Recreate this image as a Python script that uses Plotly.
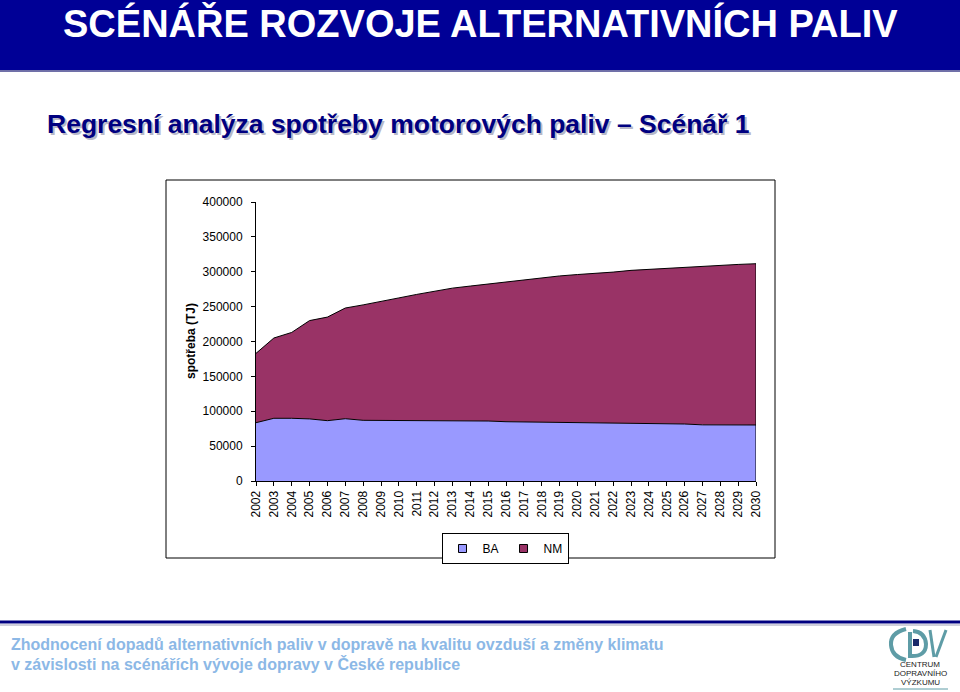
import plotly.graph_objects as go

# ---------------- data ----------------
years = list(range(2002, 2031))
year_labels = [str(y) for y in years]
ba = [83600, 89900, 89900, 89000, 86500, 89300, 87000, 87000, 87000, 87000,
      86500, 86000, 86000, 86000, 85000, 84600, 84600, 84600, 84000, 83600,
      83600, 82500, 82200, 82200, 81700, 80500, 80300, 80300, 80300]
nm = [99400, 115100, 123100, 141000, 148500, 158700, 165500, 171000, 175500, 180500,
      185500, 190500, 193500, 196500, 200000, 204400, 206900, 209400, 212000, 213900,
      215900, 219500, 221300, 223300, 225300, 227500, 229200, 230200, 231200]
series_names = ["BA", "NM"]
series_colors = ["#9999FF", "#993366"]
y_ticks = list(range(0, 400001, 50000))

# ---------------- geometry helpers (pixel -> paper) ----------------
W, H = 960, 692
L, R, T, B = 256, 756, 202, 481


def px(x):
    return (x - L) / (R - L)


def py(y):
    return (B - y) / (B - T)


FONT = "Liberation Sans, Arial, sans-serif"

fig = go.Figure()

for vals, name, col in zip([ba, nm], series_names, series_colors):
    fig.add_trace(go.Scatter(
        x=years, y=vals, name=name, stackgroup="one", mode="lines",
        line=dict(color="black", width=1), fillcolor=col, showlegend=False,
        hoverinfo="x+y+name"))

# right edge outline of the stacked area
total_end = ba[-1] + nm[-1]
fig.add_trace(go.Scatter(x=[years[-1], years[-1]], y=[0, total_end], mode="lines",
                         line=dict(color="black", width=1), showlegend=False,
                         hoverinfo="skip"))

# legend proxies
for name, col in zip(series_names, series_colors):
    fig.add_trace(go.Scatter(x=[None], y=[None], mode="markers", name=name,
                             marker=dict(symbol="square", size=8, color=col,
                                         line=dict(color="black", width=1))))

shapes = []
# title band
shapes.append(dict(type="rect", xref="paper", yref="paper", x0=px(0), x1=px(960),
                   y0=py(0), y1=py(70), fillcolor="#000096", line=dict(width=0), layer="below"))
shapes.append(dict(type="line", xref="paper", yref="paper", x0=px(0), x1=px(960),
                   y0=py(71), y1=py(71), line=dict(color="#7070A8", width=2)))
# chart frame
shapes.append(dict(type="rect", xref="paper", yref="paper", x0=px(166), x1=px(775),
                   y0=py(180), y1=py(558), line=dict(color="black", width=1), layer="below"))
# footer line
shapes.append(dict(type="line", xref="paper", yref="paper", x0=px(0), x1=px(960),
                   y0=py(622), y1=py(622), line=dict(color="#000080", width=3)))
shapes.append(dict(type="line", xref="paper", yref="paper", x0=px(0), x1=px(960),
                   y0=py(625), y1=py(625), line=dict(color="#A0A0B8", width=1)))

# logo (approximate)
teal = "#5E9CA6"
def P(x, y):
    return f"{px(x)} {py(y)}"

# C arc
shapes.append(dict(type="path", xref="paper", yref="paper",
                   path=f"M {P(906,629)} Q {P(890,633)} {P(891,645)} Q {P(892,657)} {P(906,660)}",
                   line=dict(color=teal, width=4)))
# D
shapes.append(dict(type="path", xref="paper", yref="paper",
                   path=f"M {P(910,632)} L {P(910,656)} Q {P(926,657)} {P(926,644)} Q {P(925,632)} {P(913,631)}",
                   line=dict(color=teal, width=4)))
shapes.append(dict(type="rect", xref="paper", yref="paper", x0=px(913), x1=px(919),
                   y0=py(639), y1=py(646), fillcolor="#1A2A6A", line=dict(width=0)))
# V / slashes
shapes.append(dict(type="line", xref="paper", yref="paper", x0=px(930), x1=px(934),
                   y0=py(630), y1=py(657), line=dict(color=teal, width=3)))
shapes.append(dict(type="line", xref="paper", yref="paper", x0=px(946), x1=px(936),
                   y0=py(630), y1=py(657), line=dict(color=teal, width=3)))
shapes.append(dict(type="line", xref="paper", yref="paper", x0=px(893), x1=px(948),
                   y0=py(689), y1=py(689), line=dict(color=teal, width=1)))

annotations = []
annotations.append(dict(text="<b>SCÉNÁŘE ROZVOJE ALTERNATIVNÍCH PALIV</b>", xref="paper", yref="paper",
                        x=px(480), y=py(23), xanchor="center", yanchor="middle", showarrow=False,
                        font=dict(family=FONT, size=38, color="white")))
sub = "<b>Regresní analýza spotřeby motorových paliv – Scénář 1</b>"
annotations.append(dict(text=sub, xref="paper", yref="paper", x=px(47), y=py(126),
                        xanchor="left", yanchor="middle", showarrow=False,
                        font=dict(family=FONT, size=26.5, color="#B8B8C8")))
annotations.append(dict(text=sub, xref="paper", yref="paper", x=px(45), y=py(124),
                        xanchor="left", yanchor="middle", showarrow=False,
                        font=dict(family=FONT, size=26.5, color="#000080")))
annotations.append(dict(text="<b>spotřeba (TJ)</b>", xref="paper", yref="paper", x=px(191), y=py(341),
                        xanchor="center", yanchor="middle", textangle=-90, showarrow=False,
                        font=dict(family=FONT, size=12, color="black")))
foot_col = "#8CB8E6"
annotations.append(dict(text="<b>Zhodnocení dopadů alternativních paliv v dopravě na kvalitu ovzduší a změny klimatu</b>",
                        xref="paper", yref="paper", x=px(9), y=py(644), xanchor="left", yanchor="middle",
                        showarrow=False, font=dict(family=FONT, size=16, color=foot_col)))
annotations.append(dict(text="<b>v závislosti na scénářích vývoje dopravy v České republice</b>",
                        xref="paper", yref="paper", x=px(9), y=py(664), xanchor="left", yanchor="middle",
                        showarrow=False, font=dict(family=FONT, size=16, color=foot_col)))
for txt, yy in [("CENTRUM", 664), ("DOPRAVNÍHO", 673), ("VÝZKUMU", 682)]:
    annotations.append(dict(text=txt, xref="paper", yref="paper", x=px(920), y=py(yy),
                            xanchor="center", yanchor="middle", showarrow=False,
                            font=dict(family=FONT, size=8, color="#222222")))

fig.update_layout(
    width=W, height=H,
    margin=dict(l=L, r=W - R, t=T, b=H - B, pad=0),
    paper_bgcolor="white", plot_bgcolor="white",
    font=dict(family=FONT, size=12, color="black"),
    xaxis=dict(range=[years[0], years[-1]], tickmode="array", tickvals=years, ticktext=year_labels,
               tickangle=-90, ticks="outside", ticklen=4, tickcolor="black", showline=True,
               linecolor="black", linewidth=1, showgrid=False, zeroline=False,
               tickfont=dict(size=12, color="black"), fixedrange=True),
    yaxis=dict(range=[0, 400000], tickmode="array", tickvals=y_ticks, tickformat="d",
               ticks="outside", ticklen=4, tickcolor="black", showline=True, linecolor="black",
               linewidth=1, showgrid=False, zeroline=False, ticklabelstandoff=6,
               tickfont=dict(size=12, color="black"), fixedrange=True),
    legend=dict(orientation="h", x=px(505), xanchor="center", y=py(533), yanchor="top",
                bordercolor="black", borderwidth=1, bgcolor="white", traceorder="normal",
                font=dict(size=12, color="black"), itemwidth=30, tracegroupgap=0),
    shapes=shapes, annotations=annotations, showlegend=True,
)

fig.write_html("out.html")
